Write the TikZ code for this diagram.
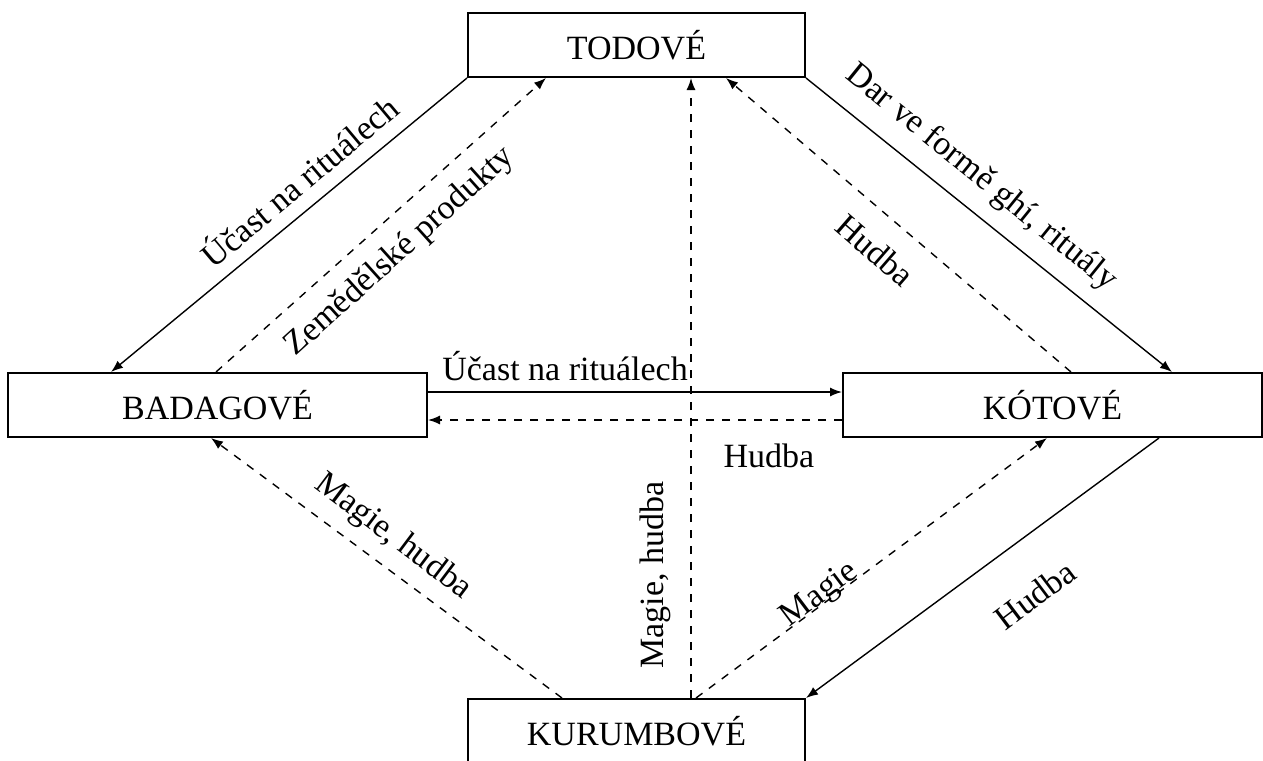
\documentclass[tikz,border=0pt]{standalone}
\usepackage{fontspec}
\setmainfont{Liberation Serif}
\usetikzlibrary{calc,arrows.meta}

\begin{document}
\begin{tikzpicture}[x=0.5pt,y=-0.5pt,
    >={Latex[length=6pt,width=4.5pt]},
    box/.style={draw,line width=1pt,minimum height=32pt,inner sep=0pt,
        font=\fontsize{17}{19}\selectfont},
    rel/.style={line width=0.7pt,->},
    relx/.style={rel,dash pattern=on 4pt off 4pt},
    lbl/.style={font=\fontsize{17}{19}\selectfont,inner sep=0pt}]
    % picture area
    \clip (0,0) rectangle (1263,760);

    % the four groups
    \node[box,minimum width=168.5pt] (todo) at (636.5,45) {TODOVÉ};
    \node[box,minimum width=209.5pt] (bada) at (217.5,405) {BADAGOVÉ};
    \node[box,minimum width=209.5pt] (koto) at (1052.5,405) {KÓTOVÉ};
    \node[box,minimum width=168.5pt] (kuru) at (636.5,731) {KURUMBOVÉ};

    % points on the box edges
    \coordinate (t_zem) at ($(todo.south west)+(79,0)$);
    \coordinate (t_mag) at ($(todo.south west)+(224,0)$);
    \coordinate (t_hud) at ($(todo.south west)+(259,0)$);
    \coordinate (b_in) at ($(bada.north west)+(104,0)$);
    \coordinate (b_zem) at ($(bada.north west)+(209,0)$);
    \coordinate (b_mag) at ($(bada.south west)+(204,0)$);
    \coordinate (b_r1) at ($(bada.north east)+(0,20)$);
    \coordinate (b_r2) at ($(bada.north east)+(0,48)$);
    \coordinate (k_in) at ($(koto.north west)+(330,0)$);
    \coordinate (k_hud) at ($(koto.north west)+(229,0)$);
    \coordinate (k_mag) at ($(koto.south west)+(205,0)$);
    \coordinate (k_out) at ($(koto.south west)+(317,0)$);
    \coordinate (k_l1) at ($(koto.north west)+(0,20)$);
    \coordinate (k_l2) at ($(koto.north west)+(0,48)$);
    \coordinate (u_bad) at ($(kuru.north west)+(95,0)$);
    \coordinate (u_mag) at ($(kuru.north west)+(224,0)$);
    \coordinate (u_kot) at ($(kuru.north west)+(229,0)$);

    % relations
    \draw[rel] (todo.south west) -- (b_in);
    \draw[relx] (b_zem) -- (t_zem);
    \draw[rel] (todo.south east) -- (k_in);
    \draw[relx] (k_hud) -- (t_hud);
    \draw[rel] (b_r1) -- (k_l1);
    \draw[relx] (k_l2) -- (b_r2);
    \draw[relx] (u_mag) -- (t_mag);
    \draw[relx] (u_bad) -- (b_mag);
    \draw[relx] (u_kot) -- (k_mag);
    \draw[rel] (k_out) -- (kuru.north east);

    % labels
    \node[lbl,rotate=40] (l_tb) at (298,180) {Účast na rituálech};
    \node[lbl,rotate=42] (l_bt) at (400,252) {Zemědělské produkty};
    \node[lbl,rotate=-39] (l_tk) at (981,178) {Dar ve formě ghí, rituály};
    \node[lbl,rotate=-41] (l_kt) at (875,250) {Hudba};
    \node[lbl,anchor=base] (l_bk) at (565,380) {Účast na rituálech};
    \node[lbl,anchor=base] (l_kb) at (769,467) {Hudba};
    \node[lbl,rotate=90] (l_ut) at (655,575) {Magie, hudba};
    \node[lbl,rotate=-37] (l_ub) at (393,537) {Magie, hudba};
    \node[lbl,rotate=37] (l_uk) at (820,595) {Magie};
    \node[lbl,rotate=37] (l_ku) at (1035,595) {Hudba};
\end{tikzpicture}
\end{document}
